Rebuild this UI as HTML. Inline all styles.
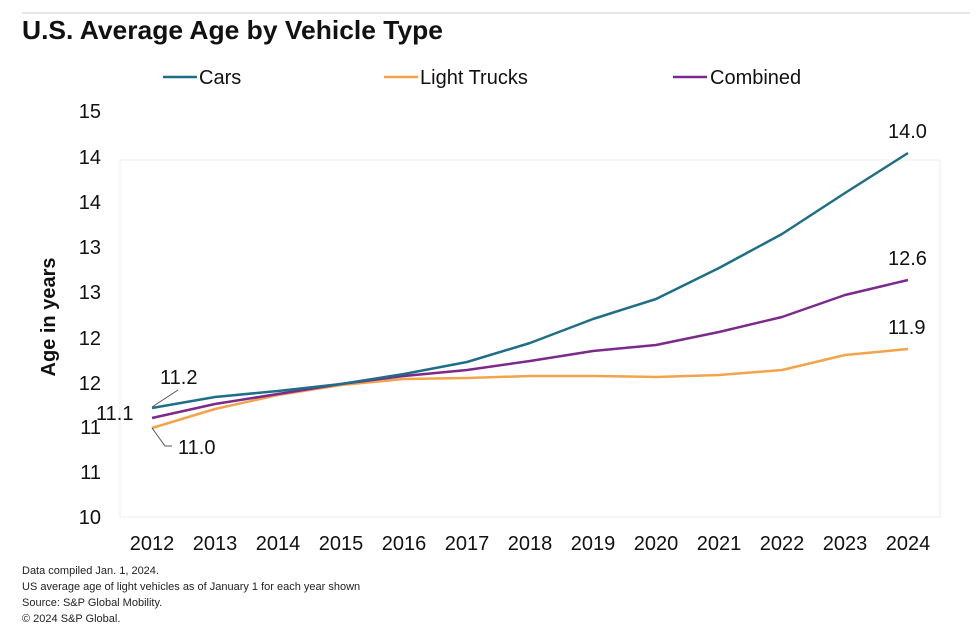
<!DOCTYPE html>
<html><head><meta charset="utf-8"><style>
html,body{margin:0;padding:0;background:#fff;}
body{width:980px;height:633px;overflow:hidden;font-family:"Liberation Sans",Arial,sans-serif;}
</style></head><body>
<svg width="980" height="633" xmlns="http://www.w3.org/2000/svg" font-family="Liberation Sans, Arial, sans-serif">
<line x1="22" y1="13" x2="970" y2="13" stroke="#e6e6e6" stroke-width="2"/>
<text x="22" y="39" font-size="26" font-weight="bold" fill="#111" textLength="421" lengthAdjust="spacingAndGlyphs">U.S. Average Age by Vehicle Type</text>
<line x1="163" y1="77" x2="197" y2="77" stroke="#1f6e87" stroke-width="2.5"/>
<text x="199" y="84" font-size="20" fill="#111">Cars</text>
<line x1="384" y1="77" x2="418" y2="77" stroke="#f2a44a" stroke-width="2.5"/>
<text x="420" y="84" font-size="20" fill="#111">Light Trucks</text>
<line x1="673" y1="77" x2="707" y2="77" stroke="#7b2a8c" stroke-width="2.5"/>
<text x="710" y="84" font-size="20" fill="#111">Combined</text>
<rect x="120" y="160" width="820" height="357" fill="none" stroke="#ededed" stroke-width="1"/>
<g font-size="20" fill="#111" text-anchor="end">
<text x="101" y="118">15</text><text x="101" y="164">14</text><text x="101" y="209">14</text>
<text x="101" y="254">13</text><text x="101" y="299">13</text><text x="101" y="345">12</text>
<text x="101" y="390">12</text><text x="101" y="434">11</text><text x="101" y="479">11</text>
<text x="101" y="524">10</text>
</g>
<text transform="translate(55,317) rotate(-90)" font-size="20" font-weight="bold" text-anchor="middle" fill="#111">Age in years</text>
<g font-size="20" fill="#111" text-anchor="middle">
<text x="152" y="550">2012</text><text x="215" y="550">2013</text><text x="278" y="550">2014</text>
<text x="341" y="550">2015</text><text x="404" y="550">2016</text><text x="467" y="550">2017</text>
<text x="530" y="550">2018</text><text x="593" y="550">2019</text><text x="656" y="550">2020</text>
<text x="719" y="550">2021</text><text x="782" y="550">2022</text><text x="845" y="550">2023</text>
<text x="908" y="550">2024</text>
</g>
<g fill="none" stroke-width="2.5" stroke-linejoin="round">
<polyline stroke="#f2a44a" points="152,428 215,409 278,395 341,385 404,379 467,378 530,376 593,376 656,377 719,375 782,370 845,355 908,349"/>
<polyline stroke="#7b2a8c" points="152,418 215,404 278,394 341,384 404,376 467,370 530,361 593,351 656,345 719,332 782,317 845,295 908,280"/>
<polyline stroke="#1f6e87" points="152,408 215,397 278,391 341,384 404,374 467,362 530,343 593,319 656,299 719,268 782,234 845,193 908,153"/>
</g>
<polyline points="152,407 178,390" fill="none" stroke="#555" stroke-width="1"/>
<polyline points="152,428 165,446 172,446" fill="none" stroke="#555" stroke-width="1"/>
<g font-size="20" fill="#111">
<text x="160" y="384">11.2</text>
<text x="96" y="420">11.1</text>
<text x="178" y="454">11.0</text>
<text x="888" y="138">14.0</text>
<text x="888" y="265">12.6</text>
<text x="888" y="334">11.9</text>
</g>
<g font-size="11" fill="#222">
<text x="22" y="574">Data compiled Jan. 1, 2024.</text>
<text x="22" y="590">US average age of light vehicles as of January 1 for each year shown</text>
<text x="22" y="606">Source: S&amp;P Global Mobility.</text>
<text x="22" y="622">© 2024 S&amp;P Global.</text>
</g>
</svg>
</body></html>
